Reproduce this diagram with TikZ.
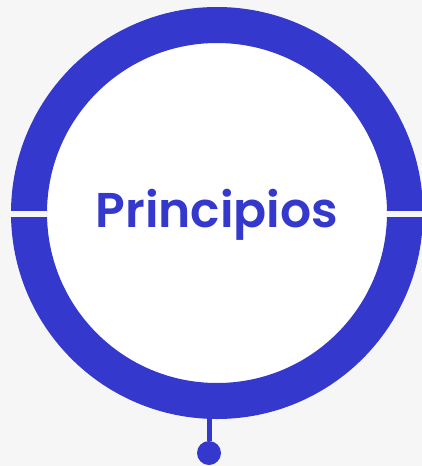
\documentclass[tikz,border=0pt]{standalone}
\usepackage{fontspec}
\setmainfont{Poppins}[BoldFont={Poppins SemiBold}]
\usetikzlibrary{positioning}
\definecolor{ringblue}{RGB}{52,56,204}
\definecolor{paper}{RGB}{246,246,246}
\tikzstyle{ring} = [circle, draw=ringblue, line width=36pt, fill=white, minimum size=376pt, inner sep=0pt]
\tikzstyle{title} = [text=ringblue, font=\fontsize{48.8}{52}\selectfont\bfseries, anchor=base]
\tikzstyle{gap} = [draw=paper, line width=6pt]
\tikzstyle{knob} = [circle, fill=ringblue, minimum size=24pt, inner sep=0pt]
\tikzstyle{stem} = [draw=ringblue, line width=5pt]

\begin{document}
\begin{tikzpicture}[x=1pt,y=-1pt]

    % Frame
    \useasboundingbox[fill=paper] (0,0) rectangle (422,466);

    % Nodes
    \node (circ) [ring] at (217,213) {};
    \node (label) [title] at (217,227) {Principios};
    \node (dot) [knob] at (209,453) {};
    \coordinate (lfar) at (0,214);
    \coordinate (rfar) at (422,214);

    % Gaps
    \draw [gap] (lfar) -- (lfar -| circ.west) -- ++(37,0);
    \draw [gap] (rfar) -- (rfar -| circ.east) -- ++(-37,0);

    % Stem
    \draw [stem] (dot) -- (dot |- circ.south);

\end{tikzpicture}
\end{document}
